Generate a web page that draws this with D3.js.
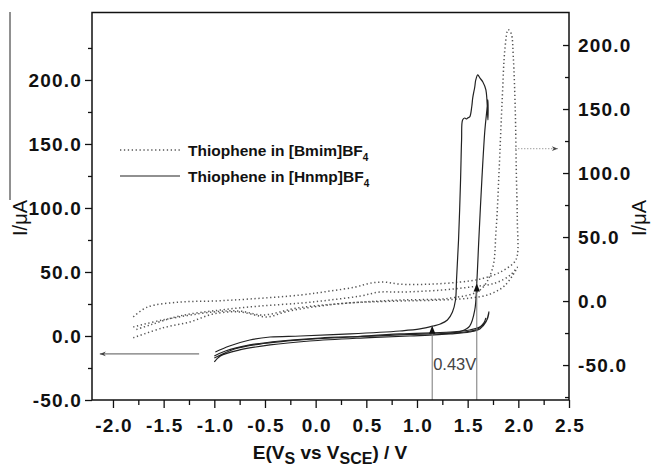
<!DOCTYPE html>
<html>
<head>
<meta charset="utf-8">
<script src="https://cdn.jsdelivr.net/npm/d3@7"></script>
<style>
  body { margin: 0; background: #fff; }
  text { font-family: "Liberation Sans", Arial, sans-serif; }
</style>
</head>
<body>
<svg id="chart" width="652" height="468"></svg>
<script>
// tick values
var xTicks = [-2.0, -1.5, -1.0, -0.5, 0.0, 0.5, 1.0, 1.5, 2.0, 2.5];
var xMinor = [-1.75, -1.25, -0.75, -0.25, 0.25, 0.75, 1.25, 1.75, 2.25];
var leftTicks = [-50, 0, 50, 100, 150, 200];
var leftMinor = [-25, 25, 75, 125, 175, 225];
var rightTicks = [-50, 0, 50, 100, 150, 200];
var rightMinor = [-75, -25, 25, 75, 125, 175];

// Thiophene in [Hnmp]BF4 (left axis), potential in V, current in uA
// cycle with the big oxidation loop
var hnmpLoopE = [-1.00, -0.89, -0.65, -0.35, 0.04, 0.44, 0.83, 1.13, 1.33, 1.44, 1.52, 1.57, 1.59, 1.61, 1.64, 1.67, 1.69, 1.70,
                 1.70, 1.68, 1.65, 1.62, 1.60, 1.58, 1.57, 1.55, 1.54, 1.52, 1.50, 1.49, 1.47, 1.45,
                 1.44, 1.43, 1.41, 1.39, 1.38, 1.35, 1.30, 1.23, 1.16, 1.03, 0.83, 0.34, -0.15, -0.45, -0.65, -0.85, -0.99];
var hnmpLoopI = [-15.6, -11.7, -7.0, -3.9, -1.6, -0.4, 0.8, 1.6, 2.3, 3.9, 7.8, 20.3, 41.4, 75, 121.9, 160.9, 176.6, 184.4,
                 168.8, 192.2, 198.4, 201.6, 203.9, 200.0, 194.5, 186.0, 178.9, 171.1, 170.3, 169.5, 170.3, 168.8,
                 153.1, 121.9, 75.0, 43.8, 28.1, 18.8, 12.5, 9.4, 7.8, 5.5, 3.9, 1.6, 0.0, -0.8, -3.1, -7.8, -12.5];
// low-current cycles
var hnmpBaseE = [-1.00, -0.94, -0.75, -0.45, -0.06, 0.44, 0.93, 1.33, 1.52, 1.62, 1.68, 1.71,
                 1.69, 1.62, 1.52, 1.33, 0.83, 0.34, -0.15, -0.55, -0.80, -1.00];
var hnmpBaseI = [-20.3, -15.6, -10.9, -7.0, -3.9, -1.6, 0.0, 1.6, 3.1, 5.5, 10.9, 18.8,
                 12.5, 7.0, 4.7, 3.1, 1.6, -0.8, -3.1, -6.3, -10.2, -17.2];
var hnmpTailE = [1.23, 1.47, 1.60, 1.66, 1.68];
var hnmpTailI = [2.3, 3.1, 5.5, 10.2, 14.1];

// Thiophene in [Bmim]BF4 (right axis)
var bmim1E = [-1.80, -1.51, -1.01, -0.75, -0.52, -0.18, 0.31, 0.83, 1.33, 1.62, 1.74, 1.78, 1.81, 1.84, 1.87, 1.90, 1.93, 1.95, 1.97, 1.98, 1.99, 1.99,
              1.96, 1.82, 1.62, 1.42, 1.13, 0.83, 0.68, 0.54, 0.39, 0.14, -0.15, -0.65, -1.01, -1.34, -1.66, -1.80];
var bmim1I = [-20.2, -14.8, -8.5, -7.8, -10.9, -5.4, -1.6, 0.8, 2.3, 8.5, 24.1, 55.1, 101.7, 156.0, 198.8, 212.0, 208.9, 191.0, 148.3, 101.7, 62.9, 35.7,
              30.3, 22.5, 17.1, 14.8, 13.2, 13.2, 14.8, 14.0, 10.9, 7.8, 4.7, 1.6, 0.0, -0.8, -4.7, -12.4];
var bmim2E = [-1.80, -1.51, -1.24, -1.01, -0.75, -0.48, -0.30, -0.03, 0.31, 0.83, 1.23, 1.52, 1.72, 1.87, 1.99,
              1.92, 1.77, 1.52, 1.23, 0.83, 0.63, 0.44, 0.14, -0.15, -0.55, -0.94, -1.34, -1.63, -1.78];
var bmim2I = [-28.7, -21.0, -16.3, -10.1, -8.5, -12.4, -8.5, -4.7, -1.6, 0.0, 0.8, 2.3, 5.4, 12.4, 26.4,
              20.2, 14.0, 10.9, 8.5, 7.0, 7.0, 3.9, 0.8, -1.6, -3.9, -7.0, -11.6, -18.6, -22.5];

// onset potentials marked on the solid curve
var onsetE = [1.15, 1.59];
var onsetI = [8.0, 41.0];

var svg = d3.select("#chart");
var plotLeft = 92, plotRight = 569, plotTop = 12.5, plotBottom = 400;

var x = d3.scaleLinear().domain([-2.207, 2.5]).range([plotLeft, plotRight]);
var yL = d3.scaleLinear().domain([-50, 252.7]).range([plotBottom, plotTop]);
var yR = d3.scaleLinear().domain([-77.3, 225.4]).range([plotBottom, plotTop]);

var fmt = function(d) { return d.toFixed(1); };

// thin border line at the far left of the original figure
svg.append("line").attr("x1", 10).attr("x2", 10).attr("y1", 12).attr("y2", 200)
    .attr("stroke", "#222").attr("stroke-width", 1);

// curves
function pts(es, is) { return es.map(function(e, i) { return [e, is[i]]; }); }
var lineL = d3.line().x(function(d) { return x(d[0]); }).y(function(d) { return yL(d[1]); }).curve(d3.curveCatmullRom.alpha(0.5));
var lineR = d3.line().x(function(d) { return x(d[0]); }).y(function(d) { return yR(d[1]); }).curve(d3.curveCatmullRom.alpha(0.5));

var g = svg.append("g");
[pts(bmim1E, bmim1I), pts(bmim2E, bmim2I)].forEach(function(p) {
    g.append("path").attr("d", lineR(p)).attr("fill", "none")
        .attr("stroke", "#555").attr("stroke-width", 1.5).attr("stroke-dasharray", "1.3,2.6");
});
[pts(hnmpBaseE, hnmpBaseI), pts(hnmpTailE, hnmpTailI), pts(hnmpLoopE, hnmpLoopI)].forEach(function(p) {
    g.append("path").attr("d", lineL(p)).attr("fill", "none")
        .attr("stroke", "#222").attr("stroke-width", 1.2);
});

// arrow markers
var defs = svg.append("defs");
defs.append("marker").attr("id", "tri").attr("viewBox", "0 0 10 10").attr("refX", 10).attr("refY", 5)
    .attr("markerWidth", 8).attr("markerHeight", 8).attr("markerUnits", "userSpaceOnUse").attr("orient", "auto")
    .append("path").attr("d", "M0,1 L10,5 L0,9 Z").attr("fill", "#111");
defs.append("marker").attr("id", "tri2").attr("viewBox", "0 0 10 10").attr("refX", 10).attr("refY", 5)
    .attr("markerWidth", 9).attr("markerHeight", 6).attr("markerUnits", "userSpaceOnUse").attr("orient", "auto")
    .append("path").attr("d", "M0,1 L10,5 L0,9 L3,5 Z").attr("fill", "#444");

// onset lines with arrows
onsetE.forEach(function(e, i) {
    svg.append("line").attr("x1", x(e)).attr("x2", x(e)).attr("y1", plotBottom).attr("y2", yL(onsetI[i]))
        .attr("stroke", "#777").attr("stroke-width", 1).attr("marker-end", "url(#tri)");
});
svg.append("text").attr("x", x(onsetE[0]) + 1).attr("y", 370).attr("font-size", 16.5)
    .attr("fill", "#444").text("0.43V");

// axis pointers
svg.append("line").attr("x1", x(-1.15)).attr("x2", x(-2.13)).attr("y1", yL(-14)).attr("y2", yL(-14))
    .attr("stroke", "#555").attr("stroke-width", 1).attr("marker-end", "url(#tri2)");
svg.append("line").attr("x1", x(1.97)).attr("x2", x(2.39)).attr("y1", yR(119)).attr("y2", yR(119))
    .attr("stroke", "#777").attr("stroke-width", 1).attr("stroke-dasharray", "1,2").attr("marker-end", "url(#tri2)");

// axes
function styleAxis(sel) {
    sel.selectAll(".domain").remove();
    sel.selectAll("line").attr("stroke", "#111").attr("stroke-width", 1.3);
    sel.selectAll("text").attr("font-size", 19).attr("font-weight", "bold").attr("fill", "#111")
        .attr("letter-spacing", "1.2px")
        .attr("font-family", "'Liberation Sans', Arial, sans-serif");
}
var ax;
ax = svg.append("g").attr("transform", "translate(" + plotLeft + ",0)")
    .call(d3.axisLeft(yL).tickValues(leftTicks).tickFormat(fmt).tickSize(7).tickPadding(3));
styleAxis(ax);
ax = svg.append("g").attr("transform", "translate(" + plotLeft + ",0)")
    .call(d3.axisLeft(yL).tickValues(leftMinor).tickFormat("").tickSize(4));
styleAxis(ax);
ax = svg.append("g").attr("transform", "translate(" + plotRight + ",0)")
    .call(d3.axisRight(yR).tickValues(rightTicks).tickFormat(fmt).tickSizeInner(-6).tickSizeOuter(0).tickPadding(9));
styleAxis(ax);
ax.selectAll("text").attr("x", 9);
ax = svg.append("g").attr("transform", "translate(" + plotRight + ",0)")
    .call(d3.axisRight(yR).tickValues(rightMinor).tickFormat("").tickSizeInner(-4).tickSizeOuter(0));
styleAxis(ax);
ax = svg.append("g").attr("transform", "translate(0," + plotBottom + ")")
    .call(d3.axisBottom(x).tickValues(xTicks).tickFormat(fmt).tickSize(8).tickPadding(11));
styleAxis(ax);
ax.selectAll("text").attr("dx", "0.6px");
ax = svg.append("g").attr("transform", "translate(0," + plotBottom + ")")
    .call(d3.axisBottom(x).tickValues(xMinor).tickFormat("").tickSize(5));
styleAxis(ax);

// frame
svg.append("rect").attr("x", plotLeft).attr("y", plotTop).attr("width", plotRight - plotLeft).attr("height", plotBottom - plotTop)
    .attr("fill", "none").attr("stroke", "#111").attr("stroke-width", 1.5);

// axis titles
var xt = svg.append("text").attr("x", 330).attr("y", 459).attr("text-anchor", "middle")
    .attr("font-size", 19).attr("font-weight", "bold").attr("fill", "#111");
xt.append("tspan").text("E(V");
xt.append("tspan").attr("dy", 5).attr("font-size", 16).text("S");
xt.append("tspan").attr("dy", -5).text(" vs V");
xt.append("tspan").attr("dy", 5).attr("font-size", 16).text("SCE");
xt.append("tspan").attr("dy", -5).text(") / V");

svg.append("text").attr("transform", "translate(27,218) rotate(-90)").attr("text-anchor", "middle")
    .attr("font-size", 20).attr("fill", "#111").text("I/\u03bcA");
svg.append("text").attr("transform", "translate(646,218) rotate(-90)").attr("text-anchor", "middle")
    .attr("font-size", 20).attr("fill", "#111").text("I/\u03bcA");

// legend
var legendLabels = ["Thiophene in [Bmim]BF", "Thiophene in [Hnmp]BF"];
var legendY = [150, 176];
legendLabels.forEach(function(lab, i) {
    var ln = svg.append("line").attr("x1", 120).attr("x2", 180).attr("y1", legendY[i]).attr("y2", legendY[i])
        .attr("stroke", i === 0 ? "#555" : "#222").attr("stroke-width", i === 0 ? 1.5 : 1.2);
    if (i === 0) ln.attr("stroke-dasharray", "1.3,2.6");
    var t = svg.append("text").attr("x", 188).attr("y", legendY[i] + 5.5)
        .attr("font-size", 15.5).attr("font-weight", "bold").attr("fill", "#111").text(lab);
    t.append("tspan").attr("dy", 5).attr("font-size", 10).text("4");
});
</script>
</body>
</html>
